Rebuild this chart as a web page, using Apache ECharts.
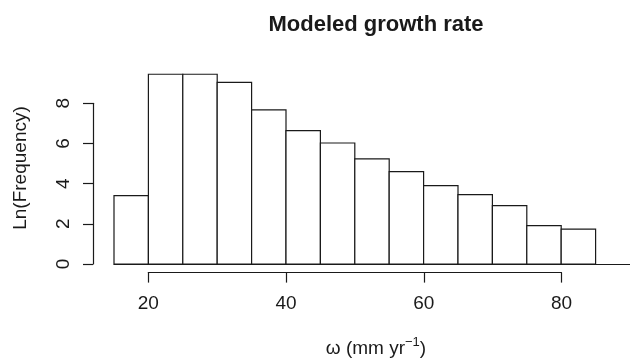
<!DOCTYPE html>
<html><head><meta charset="utf-8">
<script src="https://cdn.jsdelivr.net/npm/echarts@6/dist/echarts.min.js"></script>
<style>html,body{margin:0;padding:0;background:#fff}#c{width:630px;height:361px}</style>
</head><body><div id="c"></div>
<script>
// Histogram bins (ω, mm/yr) and Ln(Frequency) values
const binStarts = [15,20,25,30,35,40,45,50,55,60,65,70,75,80];
const binWidth = 5;
const lnFreq = [3.40,9.44,9.44,9.04,7.67,6.64,6.02,5.23,4.60,3.90,3.45,2.90,1.91,1.74];
const xTicks = [20,40,60,80];
const yTicks = [0,2,4,6,8];

const FONT = 'Liberation Sans, Arial, sans-serif';
const INK = '#1a1a1a';
const data = binStarts.map((s,i)=>[s, s+binWidth, lnFreq[i]]);

const chart = echarts.init(document.getElementById('c'), null, {renderer:'canvas'});
chart.setOption({
  animation:false,
  backgroundColor:'#fff',
  title:[
    {text:'Modeled growth rate', left:371, top:9, textAlign:'center',
     textStyle:{fontFamily:FONT, fontWeight:'bold', fontSize:22, color:INK}},
    {text:'{a|ω (mm yr}{s|−1}{a|)}', left:371, top:331, textAlign:'center',
     textStyle:{fontWeight:'normal', rich:{
       a:{fontFamily:FONT, fontWeight:'normal', fontSize:19, color:INK},
       s:{fontFamily:FONT, fontWeight:'normal', fontSize:13, color:INK, padding:[0,0,12,0]}
     }}}
  ],
  graphic:[
    {type:'text', x:21, y:168, rotation:Math.PI/2,
     style:{text:'Ln(Frequency)', font:'19px '+FONT, fill:INK, textAlign:'center', textVerticalAlign:'middle'}}
  ],
  grid:[
    {left:114, right:0, top:63, bottom:97},
    {left:93, width:1, top:103.3, bottom:97},
    {left:148.3, right:68.5, bottom:88.4, height:0}
  ],
  xAxis:[
    {type:'value', gridIndex:0, min:15, max:90, show:true,
     axisLine:{show:true, onZero:false, lineStyle:{color:INK, width:1.2}},
     axisTick:{show:false}, axisLabel:{show:false}, splitLine:{show:false}},
    {type:'value', gridIndex:1, show:false, min:0, max:1},
    {type:'value', gridIndex:2, min:xTicks[0], max:xTicks[xTicks.length-1], interval:20,
     axisLine:{show:true, lineStyle:{color:INK, width:1.2}},
     axisTick:{show:true, length:10, inside:false, lineStyle:{color:INK, width:1.2}},
     axisLabel:{show:true, margin:22, fontFamily:FONT, fontSize:19, color:INK,
       formatter:v=> xTicks.includes(v)? String(v):''},
     splitLine:{show:false}}
  ],
  yAxis:[
    {type:'value', gridIndex:0, min:0, max:10, show:false},
    {type:'value', gridIndex:1, min:yTicks[0], max:yTicks[yTicks.length-1], interval:2, position:'left',
     axisLine:{show:true, lineStyle:{color:INK, width:1.2}},
     axisTick:{show:true, length:10, lineStyle:{color:INK, width:1.2}},
     axisLabel:{show:true, rotate:90, margin:20, fontFamily:FONT, fontSize:19, color:INK,
       formatter:v=> yTicks.includes(v)? String(v):''},
     splitLine:{show:false}},
    {type:'value', gridIndex:2, show:false, min:0, max:1}
  ],
  series:[{
    type:'custom', xAxisIndex:0, yAxisIndex:0, data:data,
    renderItem:(params, api)=>{
      const p0 = api.coord([api.value(0), api.value(2)]);
      const p1 = api.coord([api.value(1), 0]);
      return {type:'rect', shape:{x:p0[0], y:p0[1], width:p1[0]-p0[0], height:p1[1]-p0[1]},
        style:{fill:'#fff', stroke:INK, lineWidth:1.2}};
    }
  }]
});
</script></body></html>
